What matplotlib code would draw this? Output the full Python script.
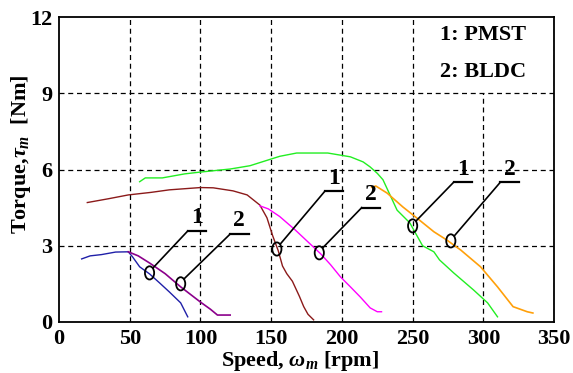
import numpy as np
import matplotlib.pyplot as plt
from matplotlib.patches import Ellipse

plt.rcParams['font.family'] = ['Liberation Serif', 'DejaVu Serif']
plt.rcParams['font.weight'] = 'bold'
plt.rcParams['mathtext.fontset'] = 'custom'
plt.rcParams['mathtext.rm'] = 'Liberation Serif:bold'
plt.rcParams['mathtext.it'] = 'Liberation Serif:italic:bold'

# PMST / BLDC torque-speed curves (speed rpm, torque Nm)
pmst_low_w = [16, 22, 30, 40, 49, 52, 57, 64, 71, 78, 86, 91]
pmst_low_t = [2.48, 2.6, 2.65, 2.75, 2.76, 2.56, 2.17, 1.89, 1.54, 1.18, 0.75, 0.2]
bldc_low_w = [49, 56, 64, 75, 86, 93, 100, 107, 112, 116, 121]
bldc_low_t = [2.76, 2.6, 2.32, 1.9, 1.38, 1.08, 0.78, 0.5, 0.27, 0.27, 0.27]

pmst_mid_w = [20, 35, 49, 65, 78, 100, 109, 123, 133, 142, 147, 151, 155, 158, 161, 165, 170, 173, 176, 180]
pmst_mid_t = [4.7, 4.85, 5.0, 5.1, 5.2, 5.29, 5.28, 5.16, 5.0, 4.6, 4.1, 3.4, 2.8, 2.2, 1.9, 1.6, 1.0, 0.6, 0.3, 0.08]
bldc_mid_w = [142, 148, 156, 167, 176, 185, 192, 199, 206, 213, 220, 225, 228]
bldc_mid_t = [4.57, 4.45, 4.15, 3.62, 3.15, 2.68, 2.25, 1.77, 1.38, 0.98, 0.55, 0.4, 0.4]

pmst_high_w = [57, 61, 73, 89, 100, 121, 135, 156, 168, 190, 206, 215, 220, 225, 229, 239, 248, 253, 257,
               265, 269, 279, 293, 303, 310]
pmst_high_t = [5.52, 5.67, 5.67, 5.83, 5.9, 6.02, 6.15, 6.52, 6.65, 6.65, 6.5, 6.3, 6.1, 5.85, 5.6, 4.4, 3.9,
               3.4, 3.0, 2.76, 2.44, 1.93, 1.26, 0.75, 0.2]
bldc_high_w = [221, 224, 232, 243, 255, 265, 274, 284, 298, 310, 321, 331, 335]
bldc_high_t = [5.3, 5.35, 5.07, 4.53, 4.0, 3.55, 3.23, 2.83, 2.17, 1.38, 0.6, 0.4, 0.35]

# callouts: marked point, end of leader line, label
callout_pts = [(64, 1.93), (86, 1.5), (154, 2.87), (184, 2.72), (250, 3.78), (277, 3.19)]
callout_ends = [(91, 3.58), (121, 3.46), (188, 5.15), (214, 4.5), (279, 5.5), (312, 5.5)]
callout_txt = ['1', '2', '1', '2', '1', '2']

fig, ax = plt.subplots(figsize=(5.73, 3.73), dpi=100)
fig.subplots_adjust(left=0.103, right=0.967, bottom=0.137, top=0.954)

ax.plot(pmst_low_w, pmst_low_t, color='#1f1fa8', lw=1)
ax.plot(bldc_low_w, bldc_low_t, color='#8b008b', lw=1.2)
ax.plot(pmst_mid_w, pmst_mid_t, color='#8b1a1a', lw=1)
ax.plot(bldc_mid_w, bldc_mid_t, color='#ff00ff', lw=1)
ax.plot(pmst_high_w, pmst_high_t, color='#22ee22', lw=1)
ax.plot(bldc_high_w, bldc_high_t, color='#ffa00a', lw=1.2)

for (px, py), (ex, ey), t in zip(callout_pts, callout_ends, callout_txt):
    ax.add_patch(Ellipse((px, py), 6.5, 0.52, fill=False, ec='black', lw=1.3, zorder=5))
    ax.plot([px + 2.5, ex], [py + 0.2, ey], color='black', lw=1.2, zorder=5)
    ax.plot([ex, ex + 13], [ey, ey], color='black', lw=1.6, zorder=5)
    ax.text(ex + 6.5, ey + 0.1, t, ha='center', va='bottom', fontsize=17, fontweight='bold')

ax.set_xlim(0, 350)
ax.set_ylim(0, 12)
ax.set_xticks(np.arange(0, 351, 50))
ax.set_yticks(np.arange(0, 13, 3))
ax.tick_params(labelsize=16, direction='in', length=0)
ax.tick_params(axis='x', pad=5)
ax.tick_params(axis='y', pad=5)

for x in range(50, 351, 50):
    top = 0.75 if x == 300 else 1.0
    ax.axvline(x, ymax=top, color='black', lw=0.9, ls=(0, (4, 3)), zorder=1)
for y in [3, 6, 9]:
    ax.axhline(y, color='black', lw=0.9, ls=(0, (4, 3)), zorder=1)

for s in ax.spines.values():
    s.set_linewidth(1.3)

ax.text(300, 11.3, '1: PMST', ha='center', va='center', fontsize=16, fontweight='bold')
ax.text(300, 9.85, '2: BLDC', ha='center', va='center', fontsize=16, fontweight='bold')

ax.set_xlabel(r'Speed, $\omega_m$ [rpm]', fontsize=16, fontweight='bold')
ax.set_ylabel(r'Torque,$\tau_m$  [Nm]', fontsize=16, fontweight='bold')
ax.xaxis.set_label_coords(0.487, -0.09)
ax.yaxis.set_label_coords(-0.053, 0.55)

plt.savefig('out.png', dpi=100)
